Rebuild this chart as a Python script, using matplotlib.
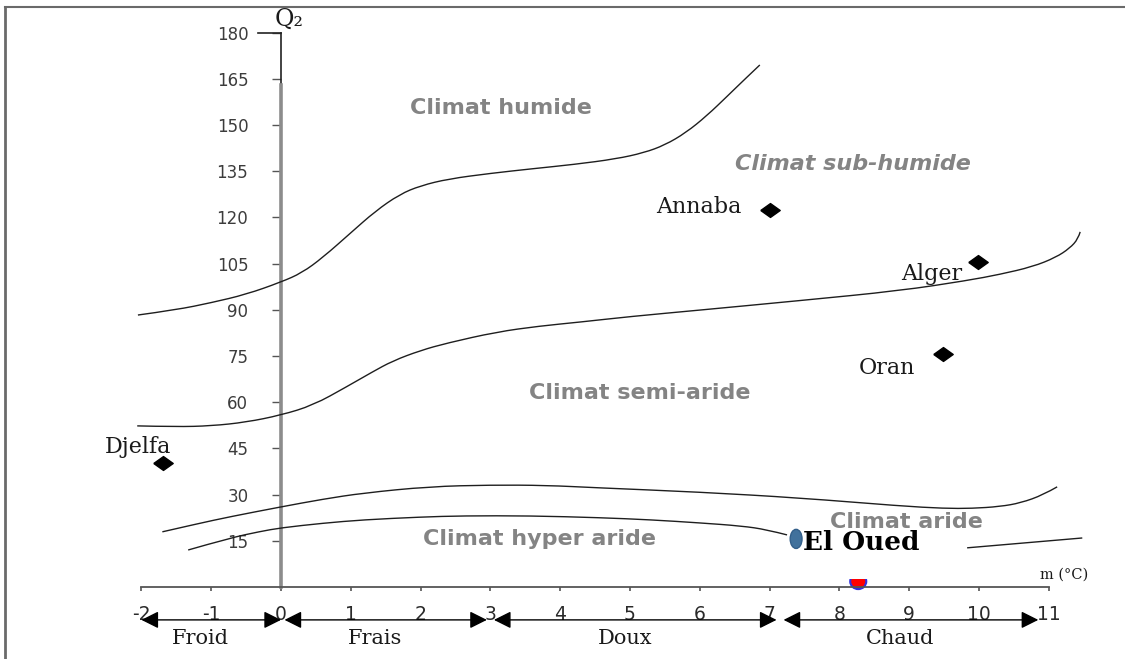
import matplotlib
matplotlib.use('Agg')
import matplotlib.pyplot as plt
from matplotlib.patches import Ellipse, Rectangle, PathPatch
from matplotlib.path import Path
from matplotlib.lines import Line2D

# Emberger climagram: m (mean minimum of the coldest month, °C) vs Q2

# boundary humide / sub-humide
humid_m = [-2.05, -1.5, -1.0, -0.5, 0.0, 0.3, 0.6, 1.0, 1.35, 1.7, 2.0, 2.4,
           3.0, 3.6, 4.2, 4.8, 5.2, 5.5, 5.8, 6.1, 6.4, 6.65, 6.86]
humid_q = [88.3, 90.0, 92.3, 95.0, 99.0, 102.0, 107.0, 115.0, 122.0, 127.5, 130.3, 132.5,
           134.3, 135.8, 137.2, 139.0, 141.0, 143.5, 147.5, 153.0, 159.5, 165.0, 169.5]

# boundary sub-humide / semi-aride
subhumid_m = [-2.06, -1.5, -1.0, -0.5, 0.0, 0.46, 0.94, 1.3, 1.6, 2.0, 2.38, 3.09,
              3.7, 4.28, 5.0, 6.0, 7.44, 8.87, 9.83, 10.3, 10.77, 11.1, 11.3, 11.42, 11.45]
subhumid_q = [52.3, 52.0, 52.3, 53.5, 55.8, 59.0, 65.0, 69.7, 73.4, 76.8, 79.2, 82.8,
              84.7, 86.0, 87.8, 89.9, 93.0, 96.2, 99.5, 101.5, 104.0, 107.0, 110.0, 113.0, 115.3]

# boundary semi-aride / aride
arid_m = [-1.70, -1.2, -0.73, 0.0, 0.6, 1.18, 2.13, 3.0, 3.8, 4.53, 6.0, 7.44,
          8.87, 9.5, 9.9, 10.3, 10.6, 10.92, 11.12]
arid_q = [17.9, 20.5, 22.8, 26.0, 28.5, 30.5, 32.6, 33.1, 33.0, 32.2, 30.8, 28.9,
          26.3, 25.5, 25.5, 26.1, 27.3, 29.9, 32.5]

# boundary aride / hyper aride (two pieces)
hyper_m = [-1.33, -0.73, -0.3, 0.0, 0.6, 1.18, 2.0, 2.61, 3.57, 4.57, 5.3, 6.0,
           6.6, 6.96, 7.25]
hyper_q = [12.0, 15.9, 18.0, 19.2, 20.7, 21.8, 22.7, 23.1, 23.1, 22.5, 21.8, 20.8,
           19.8, 18.6, 16.9]
hyper2_m = [9.83, 11.48]
hyper2_q = [12.7, 15.9]

# stations
city_names = ['Djelfa', 'Annaba', 'Alger', 'Oran']
city_m = [-1.69, 7.0, 9.99, 9.48]
city_q = [40.3, 122.4, 105.5, 75.6]
city_offsets = [(-25, 16, 'center'), (-28, 3, 'right'), (-16, -12, 'right'), (-28, -14, 'right')]

el_oued_m = 7.38
el_oued_q = 15.6

# thermal zones along the m axis
zone_names = ['Froid', 'Frais', 'Doux', 'Chaud']
zone_start = [-2.0, 0.05, 3.05, 7.2]
zone_end = [0.0, 2.95, 7.1, 10.85]

y_ticks = list(range(15, 181, 15))
x_ticks = list(range(-2, 12))


def smooth_path(xs, ys):
    # quadratic bezier through the midpoints, so the hand-drawn boundaries stay round
    pts = list(zip(xs, ys))
    if len(pts) < 3:
        return Path(pts)
    verts = [pts[0]]
    codes = [Path.MOVETO]
    for i in range(1, len(pts) - 2):
        mid = ((pts[i][0] + pts[i + 1][0]) / 2, (pts[i][1] + pts[i + 1][1]) / 2)
        verts += [pts[i], mid]
        codes += [Path.CURVE3, Path.CURVE3]
    verts += [pts[-2], pts[-1]]
    codes += [Path.CURVE3, Path.CURVE3]
    return Path(verts, codes)


fig = plt.figure(figsize=(11.25, 6.59), dpi=100)
ax = fig.add_axes([0, 0, 1, 1])
ax.set_xlim(-4.026, 12.092)
ax.set_ylim(-23.4, 190.6)
ax.patch.set_visible(False)

# axes crossing at (0, 0)
for side in ('top', 'right'):
    ax.spines[side].set_visible(False)
ax.spines['left'].set_position(('data', 0))
ax.spines['left'].set_bounds(0, 163)
ax.spines['left'].set_color('#8c8c8c')
ax.spines['left'].set_linewidth(2.6)
ax.spines['bottom'].set_position(('data', 0))
ax.spines['bottom'].set_bounds(-2, 11)
ax.spines['bottom'].set_color('#555555')
ax.spines['bottom'].set_linewidth(1.3)
ax.plot([0, 0], [163, 180], color='#222222', lw=1.2)
ax.plot([-0.33, 0], [180, 180], color='#222222', lw=1.2)

ax.set_yticks(y_ticks)
ax.set_yticklabels([str(v) for v in y_ticks])
ax.tick_params(axis='y', direction='out', length=6.5, width=1, color='#555555',
               pad=17, labelsize=12, labelcolor='#3c3c3c')
ax.set_xticks(x_ticks)
ax.set_xticklabels([str(v) for v in x_ticks])
ax.tick_params(axis='x', direction='out', length=3, width=1.2, color='#555555',
               pad=10, labelsize=13.5, labelcolor='#2a2a2a')

# climate boundaries
for xs, ys in [(humid_m, humid_q), (subhumid_m, subhumid_q), (arid_m, arid_q),
               (hyper_m, hyper_q), (hyper2_m, hyper2_q)]:
    ax.add_patch(PathPatch(smooth_path(xs, ys), facecolor='none', edgecolor='#1e1e1e',
                           lw=1.0, zorder=3))

# climate zone names
zone_kw = dict(color='#848484', fontsize=16, fontweight='bold', family='DejaVu Sans',
               ha='center', va='center', zorder=4)
ax.text(3.15, 155.5, 'Climat humide', **zone_kw)
ax.text(8.19, 137.3, 'Climat sub-humide', style='italic', **zone_kw)
ax.text(5.14, 63.0, 'Climat semi-aride', **zone_kw)
ax.text(8.96, 21.1, 'Climat aride', **zone_kw)
ax.text(3.7, 15.6, 'Climat hyper aride', **zone_kw)

# stations
diamond = [(-1.4, 0), (0, 1), (1.4, 0), (0, -1), (-1.4, 0)]
ax.plot(city_m, city_q, ls='none', marker=diamond, ms=14, color='black', zorder=5)
for name, m, q, (dx, dy, ha) in zip(city_names, city_m, city_q, city_offsets):
    ax.annotate(name, (m, q), xytext=(dx, dy), textcoords='offset pixels',
                ha=ha, va='center', fontsize=16, family='DejaVu Serif', color='#1a1a1a')

# El Oued with its label box
ax.add_patch(Ellipse((8.27, 1.8), 0.23, 5.0, facecolor='red', edgecolor='#3030e0',
                     lw=1.5, zorder=2))
ax.add_patch(Rectangle((7.45, 2.6), 2.37, 14.9, facecolor='white', edgecolor='none', zorder=3.5))
ax.add_patch(Ellipse((el_oued_m, el_oued_q), 0.17, 6.2, facecolor='#41719c',
                     edgecolor='#335f8a', lw=1, zorder=6))
ax.annotate('El Oued', (el_oued_m, el_oued_q), xytext=(7, -4), textcoords='offset pixels',
            ha='left', va='center', fontsize=19, fontweight='bold', family='DejaVu Serif',
            color='black', zorder=6)

# axis titles
ax.text(0.12, 184.3, 'Q₂', ha='center', va='center', fontsize=17,
        family=['DejaVu Serif'], color='#1a1a1a')
ax.text(10.87, 3.9, 'm (°C)', ha='left', va='center', fontsize=10.5,
        family='DejaVu Serif', color='#1a1a1a')

# thermal zone arrows under the m axis
arrow_q = -10.7
for name, a, b in zip(zone_names, zone_start, zone_end):
    ax.annotate('', xy=(b, arrow_q), xytext=(a, arrow_q),
                arrowprops=dict(arrowstyle='<|-|>', mutation_scale=26, color='black',
                                lw=1.0, shrinkA=0, shrinkB=0))
    ax.text((a + b) / 2 - 0.15, -16.6, name, ha='center', va='center', fontsize=15,
            family='DejaVu Serif', color='#1a1a1a')

# page frame
fig.add_artist(Line2D([0.0044, 0.0044], [0, 0.989], color='#6a6a6a', lw=2))
fig.add_artist(Line2D([0.0044, 1], [0.989, 0.989], color='#6a6a6a', lw=1.5))

fig.savefig('out.png', dpi=100)
